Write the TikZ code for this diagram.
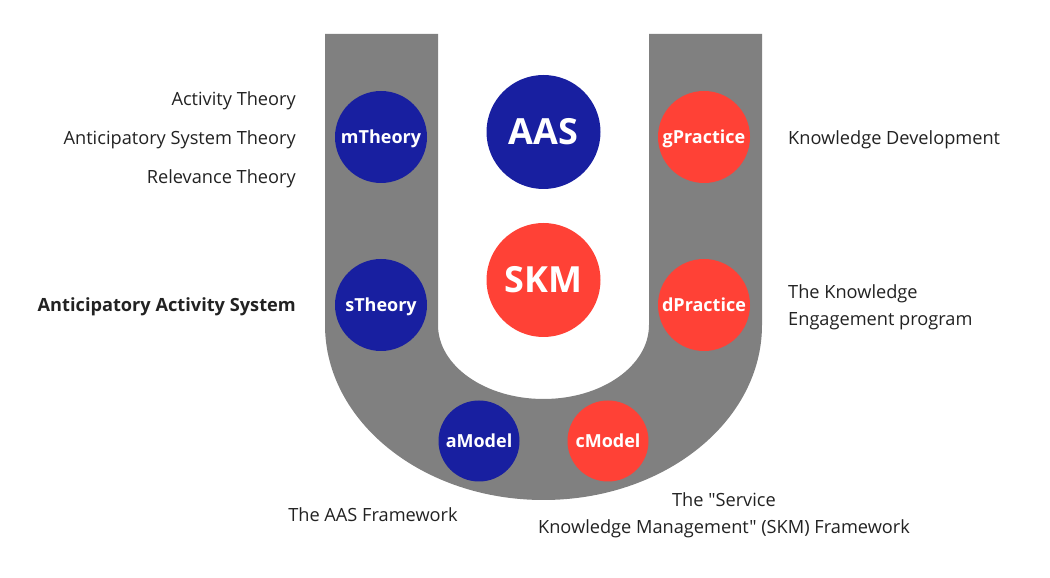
\documentclass[tikz,border=0pt]{standalone}
\usepackage{fontspec}
\setmainfont{Open Sans}[Ligatures=TeXOff]
\definecolor{ublue}{RGB}{24,31,160}
\definecolor{ured}{RGB}{255,65,54}
\definecolor{ugrey}{RGB}{128,128,128}
\definecolor{utext}{RGB}{34,34,34}
\begin{document}
\begin{tikzpicture}[
  x=1pt,y=1pt,
  bigc/.style={circle,inner sep=0pt,minimum size=114pt,text=white,font=\fontsize{36}{40}\selectfont\bfseries},
  midc/.style={circle,inner sep=0pt,minimum size=92pt,text depth=0pt,text=white,font=\fontsize{18}{22}\selectfont\bfseries},
  smallc/.style={circle,inner sep=0pt,minimum size=81pt,text depth=0pt,text=white,font=\fontsize{18}{22}\selectfont\bfseries},
  lbl/.style={inner sep=0pt,text=utext,font=\fontsize{18.2}{27}\selectfont},
]
\useasboundingbox (0,0) rectangle (1050,578);
% U shape
\fill[ugrey] (325,544) -- (325,253)
  arc[start angle=180,end angle=360,x radius=218.5pt,y radius=175pt]
  -- (762,544) -- (649,544) -- (649,253)
  arc[start angle=0,end angle=-180,x radius=105.5pt,y radius=74pt]
  -- (438,544) -- cycle;
% circles
\node[midc,fill=ublue] (mth) at (381,441) {mTheory};
\node[bigc,fill=ublue] (aas) at (543.5,446) {AAS};
\node[midc,fill=ured] (gpr) at (704,441) {gPractice};
\node[bigc,fill=ured] (skm) at (543.5,298) {SKM};
\node[midc,fill=ublue] (sth) at (381,273) {sTheory};
\node[midc,fill=ured] (dpr) at (704,273) {dPractice};
\node[smallc,fill=ublue] (amo) at (479,137) {aModel};
\node[smallc,fill=ured] (cmo) at (608,137) {cModel};
% labels
\node[lbl,anchor=east] (t1) at (296,477) {Activity Theory};
\node[lbl,anchor=east] (t2) at (296,438) {Anticipatory System Theory};
\node[lbl,anchor=east] (t3) at (296,399) {Relevance Theory};
\node[lbl,anchor=east,font=\fontsize{18.2}{27}\selectfont\bfseries] (t4) at (296,271) {Anticipatory Activity System};
\node[lbl,anchor=west] (t5) at (788,438) {Knowledge Development};
\node[lbl,anchor=west,align=left] (t6) at (788,271) {The Knowledge\\Engagement program};
\node[lbl] (t7) at (373,63) {The AAS Framework};
\node[lbl,align=center] (t8) at (724,63) {The "Service\\Knowledge Management" (SKM) Framework};
\end{tikzpicture}
\end{document}
